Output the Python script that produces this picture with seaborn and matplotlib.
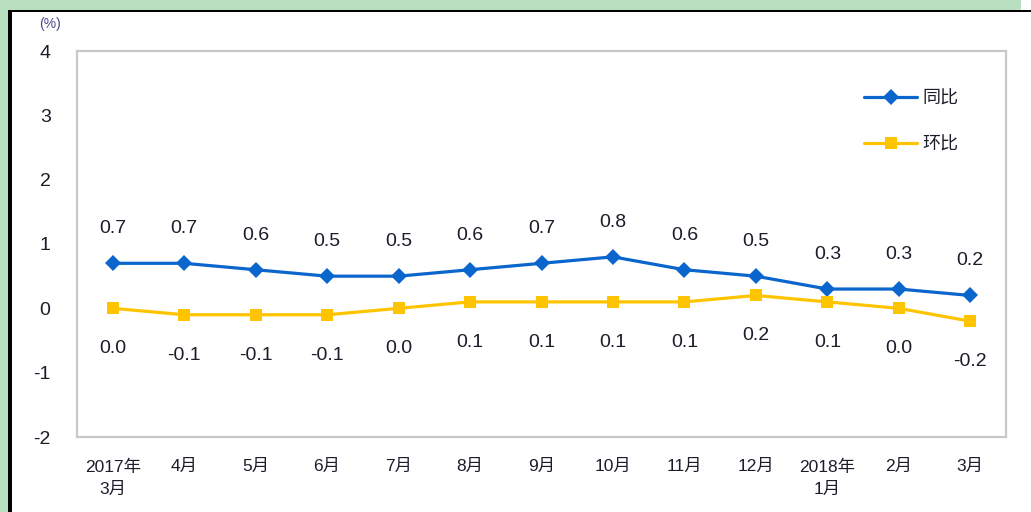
import matplotlib
matplotlib.use("Agg")
import matplotlib.pyplot as plt
from matplotlib.patches import Rectangle
from matplotlib.ticker import FixedLocator
import seaborn as sns
import pandas as pd

months = ["2017年\n3月", "4月", "5月", "6月", "7月", "8月", "9月", "10月",
          "11月", "12月", "2018年\n1月", "2月", "3月"]
yoy = [0.7, 0.7, 0.6, 0.5, 0.5, 0.6, 0.7, 0.8, 0.6, 0.5, 0.3, 0.3, 0.2]
mom = [0.0, -0.1, -0.1, -0.1, 0.0, 0.1, 0.1, 0.1, 0.1, 0.2, 0.1, 0.0, -0.2]
series_names = ["同比", "环比"]
yticks = [-2, -1, 0, 1, 2, 3, 4]

sns.set_style("white")
plt.rcParams["font.family"] = ["Liberation Sans", "Noto Sans CJK SC", "DejaVu Sans"]

W, H = 1031, 512
fig = plt.figure(figsize=(W / 100, H / 100), dpi=100)
fig.patch.set_facecolor("white")

green = "#b7dfc0"
fig.patches.append(Rectangle((0, 1 - 10 / H), 1021 / W, 10 / H, transform=fig.transFigure,
                             facecolor=green, edgecolor="none", zorder=0))
fig.patches.append(Rectangle((0, 0), 8 / W, 1, transform=fig.transFigure,
                             facecolor=green, edgecolor="none", zorder=0))
fig.patches.append(Rectangle((8 / W, 0), 3.5 / W, 1 - 10 / H, transform=fig.transFigure,
                             facecolor="black", edgecolor="none", zorder=1))
fig.patches.append(Rectangle((8 / W, 1 - 11.5 / H), 1 - 8 / W, 1.5 / H, transform=fig.transFigure,
                             facecolor="black", edgecolor="none", zorder=1))

ax = fig.add_axes([77 / W, (H - 437) / H, 929 / W, 386 / H])

x = list(range(len(months)))
df = pd.DataFrame({"x": x * 2, "v": yoy + mom,
                   "s": [series_names[0]] * len(x) + [series_names[1]] * len(x)})

blue = "#0a66cc"
yellow = "#ffc400"
sns.lineplot(data=df, x="x", y="v", hue="s", style="s",
             palette={series_names[0]: blue, series_names[1]: yellow},
             markers={series_names[0]: "D", series_names[1]: "s"},
             dashes=False, linewidth=2.3, markersize=8, markeredgewidth=0,
             ax=ax, legend=True)

txt = "#1c1c2a"
for xi, v in zip(x, yoy):
    ax.annotate(f"{v:.1f}", (xi, v), xytext=(0, 25), textcoords="offset points",
                ha="center", va="center", fontsize=14, color=txt)
for xi, v in zip(x, mom):
    ax.annotate(f"{v:.1f}", (xi, v), xytext=(0, -29), textcoords="offset points",
                ha="center", va="center", fontsize=14, color=txt)

ax.set_xlim(-0.5, len(months) - 0.5)
ax.set_ylim(-2, 4)
ax.set_yticks(yticks)
ax.set_yticklabels([str(t) for t in yticks], fontsize=14, color=txt)
ax.set_xticks(x)
ax.set_xticklabels(months, fontsize=12.5, color=txt, linespacing=1.6, va="top")
ax.xaxis.set_minor_locator(FixedLocator([i + 0.5 for i in x[:-1]]))
ax.tick_params(axis="x", which="major", length=0, pad=16)
ax.tick_params(axis="x", which="minor", direction="in", length=6, width=1.3, color="#c0c0c0")
ax.tick_params(axis="y", which="major", direction="in", length=6, width=1.3,
               color="#c0c0c0", pad=19)
for sp in ax.spines.values():
    sp.set_color("#c8c8c8")
    sp.set_linewidth(1.6)
ax.set_xlabel("")
ax.set_ylabel("")

ax.text(-0.029, 1.07, "(%)", transform=ax.transAxes, ha="center", va="center",
        fontsize=10, color="#4a4a8a")

leg = ax.legend(loc="upper left", bbox_to_anchor=(0.83, 0.94), frameon=False,
                fontsize=13, handlelength=2.9, labelspacing=1.6, handletextpad=0.3)
for t in leg.get_texts():
    t.set_color(txt)

fig.savefig("out.png", dpi=100)
